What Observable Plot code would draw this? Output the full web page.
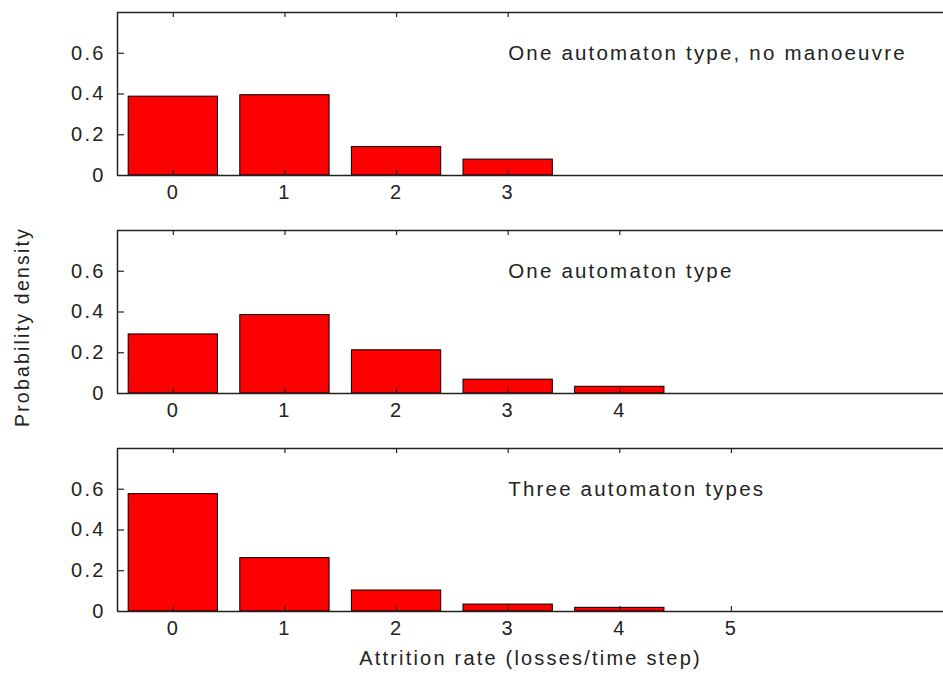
<!DOCTYPE html>
<html>
<head>
<meta charset="utf-8">
<script src="https://cdn.jsdelivr.net/npm/d3@7"></script>
<script src="https://cdn.jsdelivr.net/npm/@observablehq/plot@0.6"></script>
<style>
  body { margin: 0; background: #fff; }
  #chart { width: 943px; height: 678px; overflow: hidden; }
  #chart svg { display: block; }
</style>
</head>
<body>
<div id="chart"></div>
<script>
// ---- data ----
const panelTitles = ["One automaton type, no manoeuvre", "One automaton type", "Three automaton types"];

const rates1 = [0, 1, 2, 3];
const density1 = [0.387, 0.394, 0.140, 0.078];

const rates2 = [0, 1, 2, 3, 4];
const density2 = [0.290, 0.385, 0.212, 0.068, 0.033];

const rates3 = [0, 1, 2, 3, 4, 5];
const density3 = [0.576, 0.262, 0.103, 0.034, 0.018, 0.0];

const yTicks = [0, 0.2, 0.4, 0.6];
const yTickLabels = ["0", "0.2", "0.4", "0.6"];

const yLabel = "Probability density";
const xLabel = "Attrition rate (losses/time step)";

// ---- drawing ----
const FONT = "'Liberation Sans', Arial, Helvetica, sans-serif";
const INK = "#222";
const W = 943, ML = 117, MR = 0, MT = 12, INNER_H = 163;
const innerW = W - ML - MR;

function panel(rates, density, title, opts = {}) {
  const data = rates.map((r, i) => ({rate: r, p: density[i]}));
  const mb = opts.marginBottom ?? 43;
  const marks = [
    Plot.rectY(data, {
      x1: d => d.rate - 0.4, x2: d => d.rate + 0.4, y1: 0, y2: "p",
      fill: "#ff0000", stroke: "#000", strokeWidth: 1
    }),
    // box lines (left, top, bottom)
    Plot.ruleY([0], {stroke: INK, strokeWidth: 1.5}),
    Plot.ruleY([0.8], {stroke: INK, strokeWidth: 1.5}),
    Plot.ruleX([-0.5], {stroke: INK, strokeWidth: 1.5}),
    // inward ticks
    Plot.ruleX(rates, {x: d => d, insetBottom: INNER_H - 5, stroke: INK, strokeWidth: 1.2}),
    Plot.ruleX(rates, {x: d => d, insetTop: INNER_H - 5, stroke: INK, strokeWidth: 1.2}),
    Plot.ruleY(yTicks.slice(1), {y: d => d, insetRight: innerW - 7, stroke: INK, strokeWidth: 1.2}),
    // tick labels
    Plot.text(rates, {x: d => d, frameAnchor: "bottom", dy: 23, text: d => String(d), fill: INK}),
    Plot.text(yTicks, {y: d => d, frameAnchor: "left", dx: -12, textAnchor: "end",
      text: (d, i) => yTickLabels[i], fill: INK}),
    // panel annotation
    Plot.text([title], {x: 3, y: 0.6, textAnchor: "start", text: d => d, fill: INK, fontSize: 20.5})
  ];
  if (opts.yLabel) {
    marks.push(Plot.text([opts.yLabel], {frameAnchor: "left", textAnchor: "middle", dx: -95, dy: 15, rotate: -90,
      text: d => d, fill: INK, fontSize: 19.5}));
  }
  if (opts.xLabel) {
    marks.push(Plot.text([opts.xLabel], {frameAnchor: "bottom", dy: 53, text: d => d, fill: INK, fontSize: 20}));
  }
  return Plot.plot({
    width: W,
    height: MT + INNER_H + mb,
    marginLeft: ML, marginRight: MR, marginTop: MT, marginBottom: mb,
    x: {domain: [-0.5, 6.9], axis: null},
    y: {domain: [0, 0.8], axis: null},
    style: {fontFamily: FONT, fontSize: "20px", letterSpacing: "2.2px", color: INK, background: "#fff"},
    marks
  });
}

const root = document.getElementById("chart");
root.append(panel(rates1, density1, panelTitles[0]));
root.append(panel(rates2, density2, panelTitles[1], {yLabel}));
root.append(panel(rates3, density3, panelTitles[2], {xLabel, marginBottom: 67}));
</script>
</body>
</html>
